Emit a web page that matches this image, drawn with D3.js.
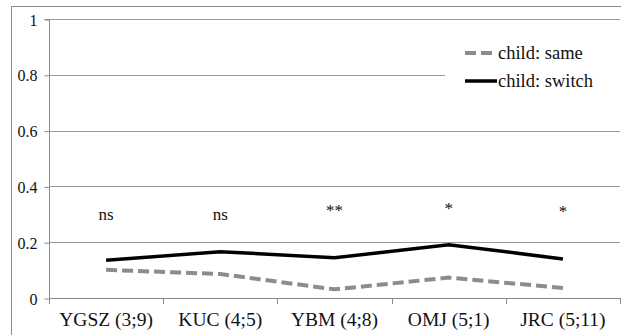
<!DOCTYPE html>
<html><head><meta charset="utf-8">
<script src="https://cdn.jsdelivr.net/npm/d3@7"></script>
</head><body style="margin:0;background:#fff"><svg id="c" width="621" height="335" style="display:block;font-family:'Liberation Serif',serif"></svg>
<script>
const categories = ["YGSZ (3;9)", "KUC (4;5)", "YBM (4;8)", "OMJ (5;1)", "JRC (5;11)"];
const sameValues = [0.101, 0.086, 0.031, 0.073, 0.036];
const switchValues = [0.135, 0.166, 0.144, 0.191, 0.14];
const significance = ["ns", "ns", "**", "*", "*"];
const sigLevel = [0.28, 0.28, 0.295, 0.3, 0.29];
const yTicks = [0, 0.2, 0.4, 0.6, 0.8, 1];
const yTickLabels = ["0", "0.2", "0.4", "0.6", "0.8", "1"];
const seriesNames = ["child: same", "child: switch"];

const FONT = "Liberation Serif";
const svg = d3.select("#c");
const L = 49, R = 620, T = 19, B = 298;
const x = d3.scaleBand().domain(categories).range([L, R]);
const y = d3.scaleLinear().domain([0, 1]).range([B, T]);

svg.append("rect").attr("x", 11.5).attr("y", 6.5).attr("width", 640).attr("height", 340)
  .attr("fill", "none").attr("stroke", "#8a8a8a").attr("stroke-width", 1);

svg.append("g").selectAll("line").data(yTicks.filter(d => d > 0)).join("line")
  .attr("x1", L).attr("x2", R).attr("y1", d => Math.round(y(d)) + 0.5).attr("y2", d => Math.round(y(d)) + 0.5)
  .attr("stroke", "#9a9a9a").attr("stroke-width", 1);

const yAxis = d3.axisLeft(y).tickValues(yTicks).tickSize(5).tickPadding(7)
  .tickFormat((d, i) => yTickLabels[i]);
const gy = svg.append("g").attr("transform", `translate(${L + 0.5},0.5)`).call(yAxis);
gy.attr("font-family", null).style("font-family", FONT);
gy.select(".domain").attr("stroke", "#8a8a8a").attr("d", `M-5,${y(1)}H0V${y(0)}`);
gy.selectAll(".tick line").attr("stroke", "#8a8a8a");
gy.selectAll(".tick text").attr("font-size", 16).attr("fill", "#111").attr("dy", "0.35em")
  .style("font-family", FONT);

const xAxis = d3.axisBottom(x).tickSize(0).tickPadding(0);
const gx = svg.append("g").attr("transform", `translate(0,${B + 0.5})`).call(xAxis);
gx.attr("font-family", null).style("font-family", FONT);
gx.select(".domain").attr("stroke", "#8a8a8a").attr("d", `M${L},0H${R}`);
gx.selectAll(".tick text").attr("font-size", 19.5).attr("fill", "#111").attr("y", 27).attr("dy", 0)
  .style("font-family", FONT);
const bounds = categories.map((c, i) => x(c) + x.bandwidth());
bounds.unshift(L);
svg.append("g").selectAll("line").data(bounds).join("line")
  .attr("x1", d => Math.round(d) + 0.5).attr("x2", d => Math.round(d) + 0.5)
  .attr("y1", B).attr("y2", B + 6).attr("stroke", "#8a8a8a");

const cx = c => x(c) + x.bandwidth() / 2;
const line = d3.line().x((d, i) => cx(categories[i])).y(d => y(d));

svg.append("path").datum(sameValues).attr("d", line).attr("fill", "none")
  .attr("stroke", "#8c8c8c").attr("stroke-width", 4).attr("stroke-dasharray", "11,5");
svg.append("path").datum(switchValues).attr("d", line).attr("fill", "none")
  .attr("stroke", "#000").attr("stroke-width", 3.5);

svg.append("g").selectAll("text").data(significance).join("text")
  .attr("x", (d, i) => cx(categories[i])).attr("y", (d, i) => y(sigLevel[i]))
  .attr("text-anchor", "middle").attr("font-size", 17).attr("fill", "#111")
  .style("font-family", FONT)
  .text(d => d);

const lg = svg.append("g");
lg.append("rect").attr("x", 445).attr("y", 36).attr("width", 176).attr("height", 64).attr("fill", "#fff");
const legY = [53, 81];
const legStyles = [{c: "#8c8c8c", w: 4, dash: "11,5"}, {c: "#000", w: 3.5, dash: null}];
seriesNames.forEach((n, i) => {
  lg.append("line").attr("x1", 465).attr("x2", 497).attr("y1", legY[i]).attr("y2", legY[i])
    .attr("stroke", legStyles[i].c).attr("stroke-width", legStyles[i].w)
    .attr("stroke-dasharray", legStyles[i].dash);
  lg.append("text").attr("x", 498).attr("y", legY[i] + 6).attr("font-size", 18.5).attr("fill", "#111")
    .style("font-family", FONT).text(n);
});
</script></body></html>
